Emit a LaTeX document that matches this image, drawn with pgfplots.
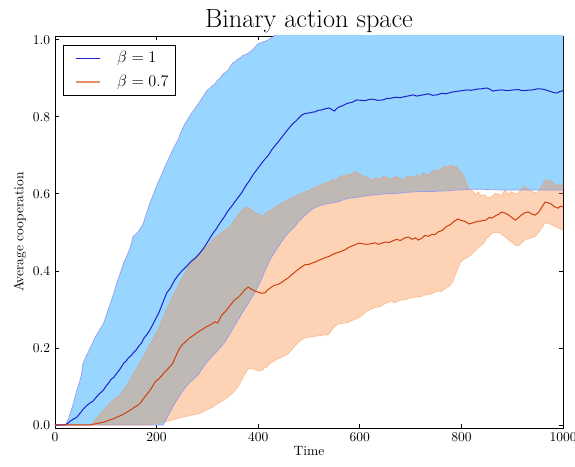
\documentclass[border=0pt]{standalone}
\usepackage{pgfplots}
\pgfplotsset{compat=1.18}
\usepackage{pgfplotstable}
\usepgfplotslibrary{fillbetween}

\definecolor{bluefill}{RGB}{153,214,255}
\definecolor{blueedge}{RGB}{150,155,235}
\definecolor{orangebase}{RGB}{250,142,70}
\definecolor{blueline}{RGB}{30,35,205}
\definecolor{orangeline}{RGB}{205,65,15}
\definecolor{orangeleg}{RGB}{232,140,105}

\pgfplotstableread{
x y
0 0
20 0
25 0.004
30 0.01
36 0.015
43 0.02
49 0.03
55 0.04
62 0.05
69 0.057
75 0.062
80 0.07
85 0.078
89 0.083
95 0.09
100 0.10
105 0.108
110 0.118
116 0.124
122 0.135
128 0.145
135 0.16
140 0.166
145 0.175
150 0.18
154 0.187
160 0.195
165 0.205
170 0.212
175 0.225
181 0.235
187 0.247
193 0.262
200 0.28
205 0.293
210 0.31
215 0.327
220 0.343
227 0.355
235 0.375
243 0.39
252 0.403
260 0.413
268 0.425
276 0.433
285 0.446
292 0.458
298 0.47
305 0.485
311 0.498
318 0.51
325 0.525
333 0.54
340 0.555
350 0.572
360 0.59
368 0.604
375 0.62
383 0.635
390 0.65
398 0.664
407 0.68
413 0.69
420 0.70
427 0.715
433 0.725
440 0.736
447 0.748
453 0.758
460 0.77
468 0.782
475 0.79
480 0.797
486 0.805
493 0.809
500 0.81
506 0.812
512 0.813
518 0.817
525 0.818
532 0.821
540 0.823
546 0.818
550 0.815
554 0.821
558 0.825
566 0.829
575 0.835
585 0.838
594 0.844
602 0.843
610 0.842
618 0.845
625 0.846
635 0.843
646 0.844
653 0.848
660 0.848
670 0.851
680 0.85
690 0.853
698 0.855
705 0.857
712 0.854
720 0.856
728 0.858
735 0.86
743 0.856
752 0.857
761 0.861
770 0.86
780 0.864
790 0.866
800 0.868
811 0.87
820 0.869
830 0.872
840 0.873
850 0.875
856 0.872
862 0.867
870 0.869
880 0.87
890 0.868
902 0.87
912 0.871
920 0.868
930 0.869
940 0.87
950 0.873
961 0.872
968 0.869
975 0.866
982 0.863
988 0.862
994 0.866
1000 0.868
}\bmean

\pgfplotstableread{
x y
0 0
21 0
26 0.015
30 0.03
36 0.055
43 0.09
48 0.11
52 0.13
55 0.16
58 0.168
62 0.18
66 0.19
69 0.20
74 0.213
80 0.23
85 0.24
89 0.25
95 0.262
100 0.28
105 0.3
110 0.32
116 0.343
122 0.37
128 0.392
135 0.42
140 0.435
145 0.45
150 0.47
154 0.49
159 0.495
163 0.50
168 0.51
173 0.52
179 0.545
185 0.57
191 0.59
197 0.61
203 0.63
210 0.65
215 0.666
220 0.68
225 0.695
230 0.71
236 0.725
242 0.74
248 0.76
255 0.78
262 0.795
269 0.81
275 0.82
280 0.83
285 0.84
290 0.85
295 0.86
300 0.87
305 0.874
309 0.88
314 0.884
320 0.895
325 0.9
330 0.91
335 0.915
340 0.92
345 0.93
350 0.94
355 0.944
360 0.95
365 0.953
370 0.96
375 0.962
380 0.965
385 0.97
390 0.975
395 0.983
400 0.99
405 0.992
410 0.995
415 0.997
420 1.0
427 1.006
433 1.012
450 1.02
500 1.04
600 1.06
1000 1.1
}\bupper

\pgfplotstableread{
x y
0 0
213 0
220 0.018
225 0.03
232 0.047
240 0.065
245 0.075
250 0.086
258 0.1
265 0.11
273 0.12
282 0.13
290 0.147
300 0.165
309 0.178
318 0.19
326 0.203
335 0.216
342 0.232
350 0.25
359 0.27
368 0.29
374 0.302
380 0.315
387 0.33
394 0.345
400 0.362
407 0.38
413 0.4
420 0.42
426 0.435
433 0.45
440 0.464
446 0.476
453 0.489
460 0.5
466 0.508
472 0.515
478 0.526
485 0.535
490 0.542
495 0.548
501 0.555
508 0.562
518 0.568
530 0.573
542 0.576
557 0.579
566 0.584
575 0.588
587 0.59
600 0.592
612 0.595
624 0.597
637 0.598
650 0.6
665 0.601
680 0.602
692 0.604
705 0.605
717 0.606
730 0.606
742 0.606
754 0.607
772 0.608
790 0.61
805 0.611
821 0.612
840 0.612
860 0.611
880 0.61
900 0.61
925 0.61
950 0.61
975 0.61
1000 0.61
}\blower

\pgfplotstableread{
x y
0 0
69 0
75 0.002
80 0.003
90 0.006
98 0.008
106 0.012
115 0.016
123 0.021
132 0.026
140 0.032
145 0.036
150 0.04
155 0.045
160 0.049
164 0.052
170 0.06
175 0.07
181 0.08
187 0.09
192 0.1
197 0.112
203 0.118
210 0.128
215 0.136
220 0.142
225 0.15
230 0.156
235 0.17
240 0.185
245 0.198
250 0.208
257 0.216
265 0.226
273 0.233
282 0.242
290 0.248
298 0.255
306 0.26
315 0.268
320 0.265
324 0.274
328 0.285
335 0.294
341 0.304
348 0.316
354 0.325
361 0.332
367 0.34
373 0.35
380 0.358
385 0.354
390 0.35
395 0.347
400 0.345
406 0.342
413 0.343
418 0.35
423 0.355
428 0.36
433 0.363
439 0.365
446 0.37
452 0.376
459 0.382
466 0.39
475 0.40
483 0.408
492 0.416
500 0.417
507 0.421
512 0.423
520 0.428
531 0.434
540 0.438
550 0.445
560 0.449
571 0.455
578 0.461
585 0.465
591 0.468
597 0.472
605 0.471
612 0.469
620 0.47
630 0.473
636 0.469
643 0.472
650 0.475
658 0.474
665 0.478
672 0.482
680 0.479
689 0.486
696 0.488
703 0.482
710 0.486
715 0.48
722 0.485
728 0.492
735 0.49
742 0.495
748 0.494
754 0.501
762 0.505
770 0.515
778 0.52
785 0.528
793 0.535
800 0.531
808 0.528
815 0.522
821 0.524
830 0.528
840 0.53
848 0.532
855 0.539
860 0.537
867 0.543
874 0.548
880 0.553
886 0.55
893 0.545
900 0.538
906 0.532
912 0.538
918 0.545
925 0.551
932 0.553
938 0.548
945 0.545
952 0.552
958 0.565
965 0.579
970 0.577
975 0.575
980 0.57
984 0.566
990 0.563
995 0.568
1000 0.566
}\omean

\pgfplotstableread{
x y
0 0
72 0
80 0.015
90 0.03
100 0.045
110 0.06
120 0.07
126 0.075
132 0.086
140 0.1
145 0.11
150 0.122
155 0.135
160 0.145
164 0.156
170 0.168
175 0.18
181 0.195
187 0.21
192 0.222
197 0.234
204 0.25
210 0.27
215 0.285
220 0.30
225 0.316
230 0.33
235 0.343
240 0.355
245 0.368
250 0.38
256 0.395
262 0.408
268 0.42
275 0.43
280 0.437
285 0.445
290 0.452
295 0.46
302 0.468
310 0.48
318 0.49
328 0.50
334 0.506
340 0.51
348 0.52
354 0.534
360 0.545
367 0.556
374 0.566
380 0.563
385 0.56
390 0.556
395 0.55
401 0.548
407 0.54
413 0.547
420 0.555
427 0.558
433 0.565
440 0.571
447 0.577
453 0.58
460 0.585
467 0.59
475 0.595
483 0.6
492 0.605
500 0.608
505 0.613
510 0.615
517 0.62
525 0.625
532 0.628
540 0.63
545 0.638
550 0.634
557 0.64
563 0.648
570 0.645
577 0.65
585 0.652
590 0.658
597 0.654
603 0.648
610 0.645
617 0.641
624 0.636
630 0.64
637 0.642
642 0.636
646 0.648
650 0.645
656 0.64
662 0.638
668 0.645
675 0.643
681 0.637
689 0.64
694 0.646
700 0.645
706 0.641
711 0.65
715 0.648
720 0.643
724 0.655
728 0.652
735 0.649
742 0.657
748 0.662
755 0.66
760 0.665
765 0.671
768 0.668
775 0.672
781 0.675
786 0.668
790 0.672
795 0.662
801 0.654
805 0.645
808 0.635
813 0.615
818 0.61
823 0.607
828 0.598
833 0.605
839 0.595
845 0.598
852 0.59
860 0.593
866 0.602
872 0.6
879 0.596
886 0.61
892 0.598
898 0.606
905 0.6
912 0.602
918 0.612
925 0.62
930 0.612
935 0.61
943 0.603
951 0.605
958 0.62
965 0.636
972 0.635
978 0.632
984 0.625
990 0.623
995 0.62
1000 0.628
}\oupper

\pgfplotstableread{
x y
0 0
185 0
200 0.004
210 0.006
220 0.009
235 0.014
250 0.02
265 0.024
285 0.03
300 0.04
310 0.046
320 0.055
330 0.063
340 0.072
350 0.083
358 0.095
365 0.11
372 0.128
380 0.145
386 0.147
392 0.145
400 0.14
407 0.141
412 0.148
417 0.15
423 0.16
430 0.165
437 0.17
443 0.174
450 0.178
459 0.185
467 0.197
476 0.21
484 0.22
492 0.226
500 0.228
508 0.229
515 0.231
523 0.232
531 0.234
536 0.233
541 0.239
548 0.252
557 0.262
566 0.264
575 0.265
582 0.27
590 0.274
600 0.28
608 0.289
616 0.296
624 0.302
632 0.305
640 0.307
647 0.313
655 0.318
663 0.322
668 0.317
673 0.32
680 0.324
690 0.325
698 0.329
706 0.331
715 0.333
722 0.334
729 0.338
735 0.338
742 0.341
748 0.345
754 0.348
760 0.346
766 0.352
770 0.355
776 0.36
783 0.372
788 0.39
793 0.405
797 0.42
803 0.428
811 0.435
818 0.44
825 0.45
831 0.457
837 0.465
843 0.47
850 0.485
855 0.49
860 0.498
868 0.5
876 0.498
881 0.493
886 0.489
893 0.48
902 0.472
907 0.466
912 0.465
918 0.472
925 0.48
931 0.483
938 0.486
945 0.489
952 0.5
958 0.51
962 0.52
965 0.525
971 0.523
978 0.52
984 0.515
990 0.512
995 0.508
1000 0.506
}\olower

\begin{document}
\begin{tikzpicture}
\begin{axis}[
  scale only axis,
  width=376.3pt, height=290.4pt,
  xmin=0, xmax=1000, ymin=-0.008, ymax=1.01,
  xtick={0,200,400,600,800,1000},
  ytick={0,0.2,0.4,0.6,0.8,1.0},
  xticklabel style={/pgf/number format/set thousands separator={}},
  yticklabel style={/pgf/number format/fixed,/pgf/number format/fixed zerofill,/pgf/number format/precision=1},
  tick align=inside,
  major tick length=3pt,
  axis line style={line width=0.7pt},
  every tick/.style={black, line width=0.6pt},
  title={Binary action space},
  title style={at={(axis description cs:0.5,1)}, anchor=base, yshift=0pt, font=\fontsize{19.5}{23}\selectfont},
  xlabel={Time},
  xlabel style={at={(axis description cs:0.5,0)}, anchor=center, yshift=-17pt},
  ylabel={Average cooperation},
  ylabel style={at={(axis description cs:0,0.5)}, anchor=center, yshift=26pt},
  legend cell align=left,
  legend style={at={(axis description cs:0,1)}, anchor=north west, xshift=5.93pt, yshift=-6.67pt,
    font=\large, draw=black, line width=0.7pt, inner xsep=3pt, inner ysep=2.5pt,
    column sep=9.7pt, row sep=4pt,
    nodes={inner xsep=2.2pt, inner ysep=2pt}},
  legend image code/.code={\path (0pt,0pt); \draw[#1] (5.9pt,0pt) -- (23.7pt,0pt);},
]
\addlegendimage{blueline, line width=0.8pt}
\addlegendentry{$\beta = 1$}
\addlegendimage{orangeleg, line width=1.2pt}
\addlegendentry{$\beta = 0.7$}

\addplot[draw=none, name path=bu, forget plot] table {\bupper};
\addplot[draw=none, name path=bl, forget plot] table {\blower};
\addplot[fill=bluefill, draw=none, forget plot] fill between[of=bu and bl];
\addplot[draw=none, name path=ou, forget plot] table {\oupper};
\addplot[draw=none, name path=ol, forget plot] table {\olower};
\addplot[fill=orangebase, fill opacity=0.4, draw=none, forget plot] fill between[of=ou and ol];

\addplot[blueedge, line width=0.5pt, forget plot] table {\bupper};
\addplot[blueedge, line width=0.5pt, forget plot] table {\blower};
\addplot[orangebase, draw opacity=0.45, line width=0.5pt, forget plot] table {\oupper};
\addplot[orangebase, draw opacity=0.45, line width=0.5pt, forget plot] table {\olower};

\addplot[blueline, line width=0.75pt, forget plot] table {\bmean};
\addplot[orangeline, line width=0.75pt, forget plot] table {\omean};
\end{axis}
\pgfresetboundingbox
\path ([xshift=-40.74pt,yshift=-28.15pt]current axis.south west) rectangle ([xshift=8.89pt,yshift=26.67pt]current axis.north east);
\end{tikzpicture}
\end{document}
